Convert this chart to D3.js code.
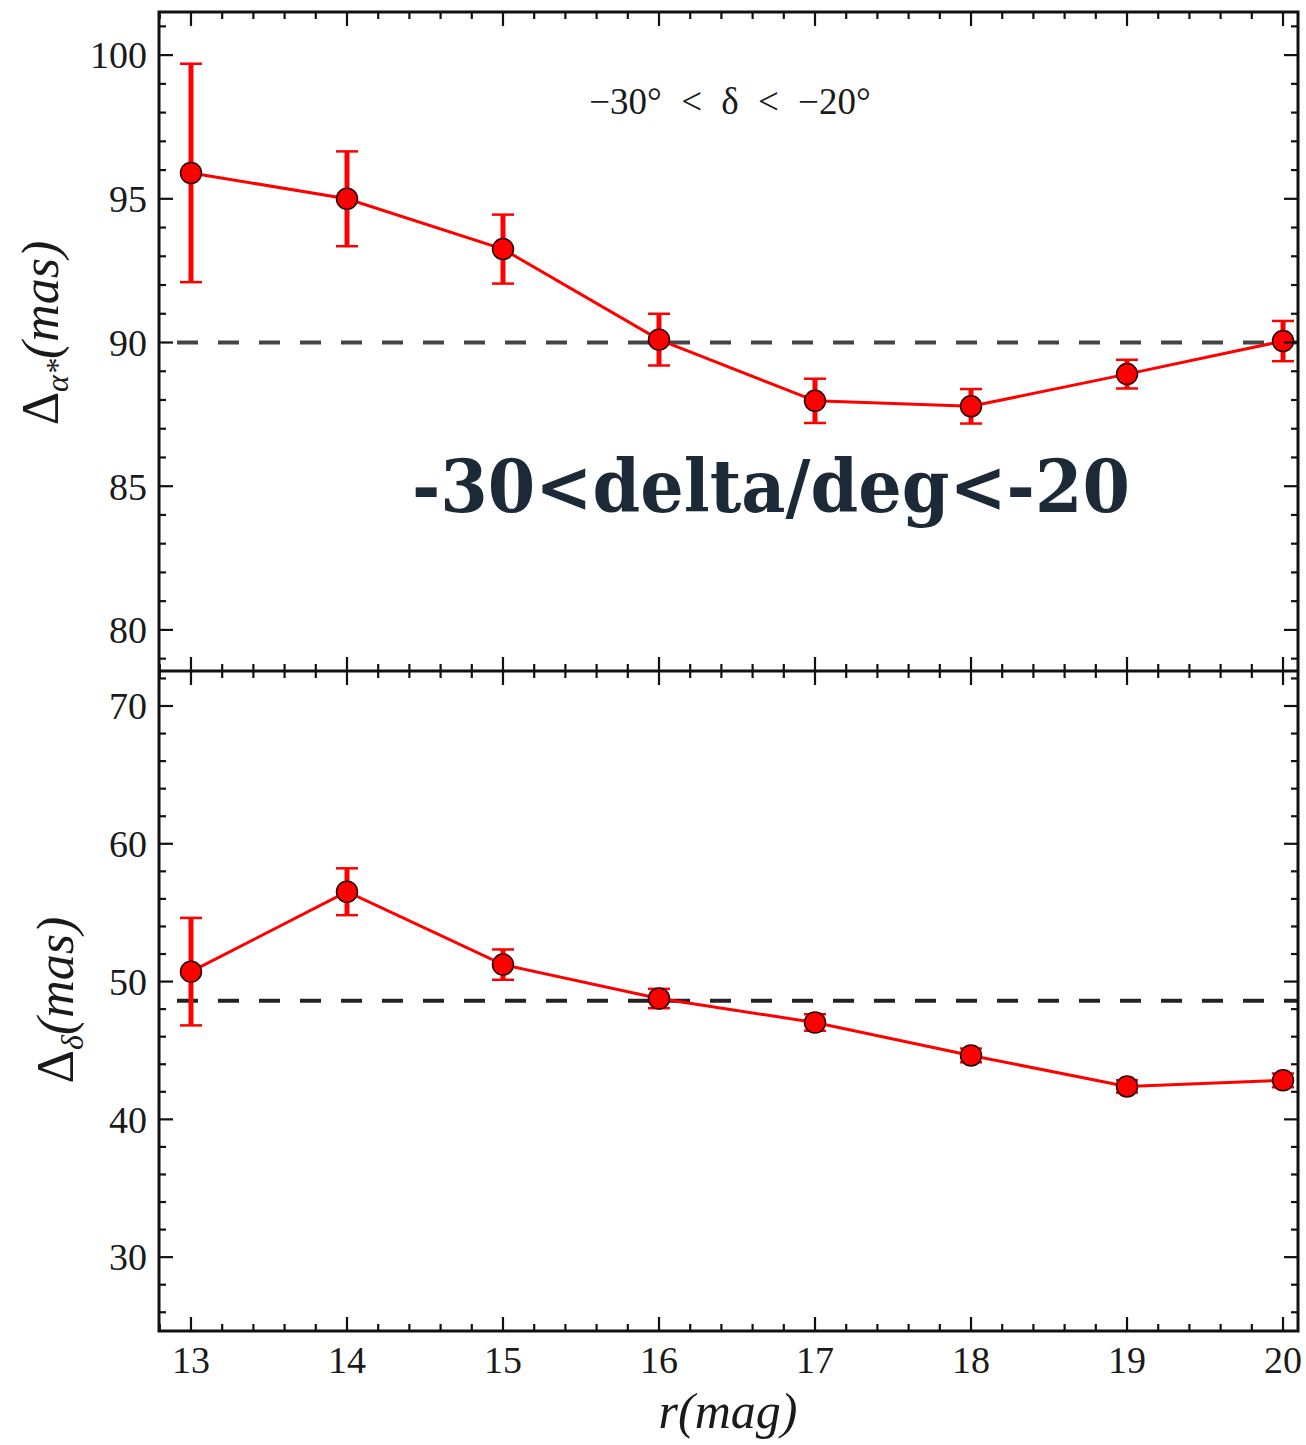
<!DOCTYPE html>
<html><head><meta charset="utf-8">
<script src="https://cdn.jsdelivr.net/npm/d3@7"></script>
<style>
html,body{margin:0;padding:0;background:#fff;}
svg{display:block;}
</style></head>
<body>
<svg id="chart" width="1306" height="1445"></svg>
<script>
// ---- data ----
const mags = [13, 14, 15, 16, 17, 18, 19, 20];
const raValues = [95.9, 95.0, 93.25, 90.1, 87.97, 87.78, 88.9, 90.05];
const raErrors = [3.8, 1.65, 1.2, 0.9, 0.77, 0.6, 0.5, 0.7];
const raReference = 90.0;
const decValues = [50.72, 56.52, 51.23, 48.77, 47.03, 44.64, 42.39, 42.83];
const decErrors = [3.9, 1.7, 1.1, 0.7, 0.6, 0.5, 0.45, 0.5];
const decReference = 48.6;
const xTicks = [13, 14, 15, 16, 17, 18, 19, 20];
const raTicks = [80, 85, 90, 95, 100];
const decTicks = [30, 40, 50, 60, 70];
const annotation = "\u221230\u00b0 < \u03b4 < \u221220\u00b0";
const overlayText = "-30<delta/deg<-20";

// ---- layout ----
const L = 159, R = 1298, T = 12, M = 671, B = 1331;
const svg = d3.select("#chart");
const serif = "'Liberation Serif','DejaVu Serif',serif";

const x = d3.scaleLinear().domain([12.795, 20.096]).range([L, R]);
const yTop = d3.scaleLinear().domain([78.57, 101.5]).range([M, T]);
const yBot = d3.scaleLinear().domain([24.64, 72.54]).range([B, M]);

const xMinor = d3.range(12.8, 20.1, 0.2).map(v => +v.toFixed(1)).filter(v => Math.abs(v - Math.round(v)) > 1e-6);

function drawTicks(g, y, majors, minors, topTicks, bottomTicks) {
  const yl = g.append("g");
  majors.filter(v => y(v) > T - 1 && y(v) < B + 1).forEach(v => {
    yl.append("line").attr("x1", L).attr("x2", L + 14).attr("y1", y(v)).attr("y2", y(v));
    yl.append("line").attr("x1", R).attr("x2", R - 14).attr("y1", y(v)).attr("y2", y(v));
  });
  minors.forEach(v => {
    yl.append("line").attr("x1", L).attr("x2", L + 7).attr("y1", y(v)).attr("y2", y(v));
    yl.append("line").attr("x1", R).attr("x2", R - 7).attr("y1", y(v)).attr("y2", y(v));
  });
  yl.selectAll("line").attr("stroke", "#111").attr("stroke-width", 2.2);
  const xl = g.append("g");
  [topTicks, bottomTicks].forEach(spec => {
    if (!spec) return;
    const [yy, dir] = spec;
    xTicks.forEach(v => xl.append("line").attr("x1", x(v)).attr("x2", x(v)).attr("y1", yy).attr("y2", yy + dir * 14));
    xMinor.forEach(v => xl.append("line").attr("x1", x(v)).attr("x2", x(v)).attr("y1", yy).attr("y2", yy + dir * 7));
  });
  xl.selectAll("line").attr("stroke", "#111").attr("stroke-width", 2.2);
  g.append("g").selectAll("text").data(majors.filter(v => y(v) > T + 5 && y(v) < B - 5)).join("text")
    .attr("x", 147).attr("y", d => y(d)).attr("dy", "0.35em")
    .attr("text-anchor", "end").attr("font-family", serif).attr("font-size", 38).attr("fill", "#1a1a1a")
    .text(d => d);
}

function drawPanel(y, values, errors, ref, clipId, yTop0, yBot0, dashColor) {
  const g = svg.append("g");
  svg.append("clipPath").attr("id", clipId).append("rect")
    .attr("x", L).attr("y", yTop0).attr("width", R - L).attr("height", yBot0 - yTop0);
  const c = g.append("g").attr("clip-path", `url(#${clipId})`);
  c.append("line").attr("x1", L + 18).attr("x2", R).attr("y1", y(ref)).attr("y2", y(ref))
    .attr("stroke", dashColor).attr("stroke-width", 4).attr("stroke-dasharray", "21,20");
  const eb = c.append("g").attr("stroke", "#ff0000");
  mags.forEach((m, i) => {
    const y1 = y(values[i] + errors[i]), y2 = y(values[i] - errors[i]);
    eb.append("line").attr("x1", x(m)).attr("x2", x(m)).attr("y1", y1).attr("y2", y2).attr("stroke-width", 5);
    eb.append("line").attr("x1", x(m) - 11).attr("x2", x(m) + 11).attr("y1", y1).attr("y2", y1).attr("stroke-width", 2.5);
    eb.append("line").attr("x1", x(m) - 11).attr("x2", x(m) + 11).attr("y1", y2).attr("y2", y2).attr("stroke-width", 2.5);
  });
  c.append("path").datum(mags.map((m, i) => [m, values[i]]))
    .attr("d", d3.line().x(d => x(d[0])).y(d => y(d[1])))
    .attr("fill", "none").attr("stroke", "#ff0000").attr("stroke-width", 3);
  c.append("g").selectAll("circle").data(mags.map((m, i) => [m, values[i]])).join("circle")
    .attr("cx", d => x(d[0])).attr("cy", d => y(d[1])).attr("r", 10.5)
    .attr("fill", "#ff0000").attr("stroke", "#2a0000").attr("stroke-width", 1.5);
  return g;
}

const gTop = drawPanel(yTop, raValues, raErrors, raReference, "clipTop", T, M, "#444");
const gBot = drawPanel(yBot, decValues, decErrors, decReference, "clipBot", M, B, "#222");

drawTicks(gTop, yTop, raTicks, d3.range(79, 102).filter(v => v % 5 !== 0), [T, 1], [M, -1]);
drawTicks(gBot, yBot, decTicks, d3.range(26, 73, 2).filter(v => v % 10 !== 0), [M, 1], [B, -1]);

svg.append("rect").attr("x", L).attr("y", T).attr("width", R - L).attr("height", B - T)
  .attr("fill", "none").attr("stroke", "#111").attr("stroke-width", 3);
svg.append("line").attr("x1", L).attr("x2", R).attr("y1", M).attr("y2", M)
  .attr("stroke", "#111").attr("stroke-width", 3);

svg.append("g").selectAll("text").data(xTicks).join("text")
  .attr("x", d => x(d)).attr("y", 1373).attr("text-anchor", "middle")
  .attr("font-family", serif).attr("font-size", 38).attr("fill", "#1a1a1a").text(d => d);

svg.append("text").attr("x", 728).attr("y", 1428).attr("text-anchor", "middle")
  .attr("font-family", serif).attr("font-style", "italic").attr("font-size", 50).attr("fill", "#1a1a1a")
  .text("r(mag)");

const yl1 = svg.append("text").attr("transform", "translate(58,333) rotate(-90)").attr("text-anchor", "middle")
  .attr("font-family", serif).attr("font-size", 52).attr("fill", "#1a1a1a");
yl1.append("tspan").text("\u0394");
yl1.append("tspan").attr("font-style", "italic").attr("font-size", 32).attr("dy", 10).text("\u03b1*");
yl1.append("tspan").attr("font-style", "italic").attr("dy", -10).text("(mas)");

const yl2 = svg.append("text").attr("transform", "translate(73,1000) rotate(-90)").attr("text-anchor", "middle")
  .attr("font-family", serif).attr("font-size", 52).attr("fill", "#1a1a1a");
yl2.append("tspan").text("\u0394");
yl2.append("tspan").attr("font-style", "italic").attr("font-size", 32).attr("dy", 10).text("\u03b4");
yl2.append("tspan").attr("font-style", "italic").attr("dy", -10).text("(mas)");

svg.append("text").attr("x", 730).attr("y", 114).attr("text-anchor", "middle")
  .attr("font-family", serif).attr("font-size", 37).attr("word-spacing", 10).attr("fill", "#1a1a1a")
  .text(annotation);

svg.append("text").attr("x", 412).attr("y", 512)
  .attr("font-family", "'DejaVu Serif',serif").attr("font-weight", "bold").attr("font-size", 72)
  .attr("fill", "#1b2a36").attr("textLength", 718).attr("lengthAdjust", "spacingAndGlyphs")
  .text(overlayText);
</script>
</body></html>
